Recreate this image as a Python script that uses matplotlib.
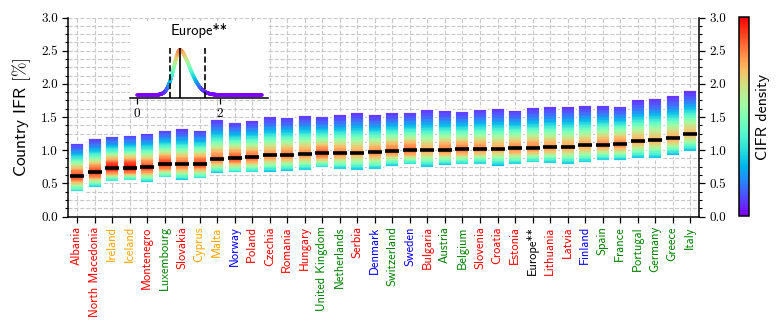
import numpy as np
import matplotlib
matplotlib.use("Agg")
import matplotlib.pyplot as plt
from matplotlib.collections import LineCollection
from matplotlib.ticker import MultipleLocator
from matplotlib import cm, colors as mcolors
from math import gamma as gamma_fn

plt.rcParams['font.family'] = ['cmr10', 'DejaVu Serif']
plt.rcParams['mathtext.fontset'] = 'cm'
plt.rcParams['axes.formatter.use_mathtext'] = True

countries = ["Albania", "North Macedonia", "Ireland", "Iceland", "Montenegro",
             "Luxembourg", "Slovakia", "Cyprus", "Malta", "Norway", "Poland",
             "Czechia", "Romania", "Hungary", "United Kingdom", "Netherlands",
             "Serbia", "Denmark", "Switzerland", "Sweden", "Bulgaria", "Austria",
             "Belgium", "Slovenia", "Croatia", "Estonia", "Europe**", "Lithuania",
             "Latvia", "Finland", "Spain", "France", "Portugal", "Germany",
             "Greece", "Italy"]
label_colors = ["red", "red", "orange", "orange", "red",
                "green", "red", "orange", "orange", "blue", "red",
                "red", "red", "red", "green", "green",
                "red", "blue", "green", "blue", "red", "green",
                "green", "red", "red", "red", "black", "red",
                "red", "blue", "green", "green", "green", "green",
                "green", "green"]
ifr_low = [0.365, 0.435, 0.525, 0.54, 0.51, 0.575, 0.54, 0.56, 0.645, 0.65, 0.65,
           0.66, 0.675, 0.685, 0.725, 0.70, 0.685, 0.70, 0.75, 0.77, 0.725, 0.765,
           0.77, 0.775, 0.75, 0.775, 0.80, 0.79, 0.775, 0.80, 0.835, 0.84, 0.865,
           0.865, 0.915, 0.97]
ifr_median = [0.61, 0.665, 0.735, 0.735, 0.74, 0.79, 0.79, 0.795, 0.87, 0.88, 0.89,
              0.92, 0.93, 0.945, 0.95, 0.96, 0.965, 0.97, 0.995, 1.00, 1.00, 1.01,
              1.015, 1.02, 1.025, 1.03, 1.035, 1.045, 1.05, 1.075, 1.085, 1.09, 1.14,
              1.15, 1.18, 1.25]
ifr_high = [1.11, 1.18, 1.22, 1.235, 1.265, 1.31, 1.33, 1.31, 1.47, 1.425, 1.45,
            1.515, 1.505, 1.535, 1.515, 1.54, 1.575, 1.54, 1.57, 1.575, 1.625, 1.60,
            1.59, 1.62, 1.64, 1.61, 1.645, 1.665, 1.665, 1.685, 1.685, 1.67, 1.77,
            1.79, 1.825, 1.905]
europe_name = "Europe**"
yticks = [0.0, 0.5, 1.0, 1.5, 2.0, 2.5, 3.0]
inset_ticks = [0, 2]

# density shape: generalized normal on each side of the median,
# relative height R_LO at the lower end of the bar and R_HI at the upper end
SHAPE_P = 1.8
R_LO, R_HI = 0.3, 0.07


def side_pdf(y, lo, med, hi):
    b_lo = (med - lo) / np.log(1 / R_LO) ** (1 / SHAPE_P)
    b_hi = (hi - med) / np.log(1 / R_HI) ** (1 / SHAPE_P)
    b = np.where(y < med, b_lo, b_hi)
    peak = 1.0 / (gamma_fn(1 + 1 / SHAPE_P) * (b_lo + b_hi))
    return peak * np.exp(-(np.abs(y - med) / b) ** SHAPE_P)


peaks = [side_pdf(np.array([m]), l, m, h)[0] for l, m, h in zip(ifr_low, ifr_median, ifr_high)]
cmap = plt.get_cmap('rainbow')
norm = mcolors.Normalize(vmin=0, vmax=max(peaks))

fig = plt.figure(figsize=(7.84, 3.35), dpi=100)
ax = fig.add_axes([0.0871, 0.3537, 0.8045, 0.594])

nstrip = 40
for i, (lo, med, hi) in enumerate(zip(ifr_low, ifr_median, ifr_high)):
    edges = np.linspace(lo, hi, nstrip + 1)
    centers = 0.5 * (edges[:-1] + edges[1:])
    dens = side_pdf(centers, lo, med, hi)
    cols = cmap(norm(dens))
    ax.bar([i] * nstrip, np.diff(edges), bottom=edges[:-1], width=0.8,
           color=cols, edgecolor=cols, alpha=0.93, linewidth=0.3, zorder=2)
    ax.bar(i, hi - lo, bottom=lo, width=0.8, facecolor='none',
           edgecolor='white', linewidth=1.3, zorder=3)
ax.hlines(ifr_median, np.arange(len(countries)) - 0.4, np.arange(len(countries)) + 0.4,
          color='black', linewidth=2.6, zorder=4)

ax.set_xlim(-0.5, len(countries) - 0.5)
ax.set_ylim(0, 3.0)
ax.set_yticks(yticks)
ax.yaxis.set_minor_locator(MultipleLocator(0.125))
ax.set_xticks(range(len(countries)))
ax.set_xticklabels(countries, rotation=90, fontfamily=['cmss10', 'DejaVu Sans'], fontsize=9)
for lbl, c in zip(ax.get_xticklabels(), label_colors):
    lbl.set_color(c)
ax.set_yticklabels([f"{v:.1f}" for v in yticks], fontsize=9.5)
ax.tick_params(axis='y', which='both', right=True, labelright=True, direction='out')
ax.tick_params(axis='y', which='major', length=4, width=0.9)
ax.tick_params(axis='y', which='minor', length=2.2, width=0.8)
ax.tick_params(axis='x', which='major', length=4, width=0.9, pad=3)
ax.set_axisbelow(True)
ax.grid(which='both', axis='y', linestyle='--', color='#c8c8c8', linewidth=0.8)
ax.grid(which='major', axis='x', linestyle='--', color='#c8c8c8', linewidth=0.8)
ax.spines['top'].set_visible(False)
for s in ['left', 'right', 'bottom']:
    ax.spines[s].set_linewidth(1.1)
ax.set_ylabel(r"Country IFR $[\%]$", fontfamily=['cmss10', 'DejaVu Sans'], fontsize=12.5, labelpad=6)

# colorbar
cax = fig.add_axes([0.943, 0.3552, 0.01276, 0.593])
sm = cm.ScalarMappable(norm=norm, cmap=cmap)
cb = fig.colorbar(sm, cax=cax)
cb.set_ticks([])
cb.outline.set_linewidth(1.1)
cb.set_label("CIFR density", fontfamily=['cmss10', 'DejaVu Sans'], fontsize=11.5, labelpad=5)

# inset
eu = countries.index(europe_name)
lo_e, med_e, hi_e = ifr_low[eu], ifr_median[eu], ifr_high[eu]
iax = fig.add_axes([0.1658, 0.7084, 0.1764, 0.229])
iax.set_facecolor('white')
xs = np.linspace(0.0, 3.0, 600)
pdf = side_pdf(xs, lo_e, med_e, hi_e)
pts = np.array([xs, pdf]).T.reshape(-1, 1, 2)
segs = np.concatenate([pts[:-1], pts[1:]], axis=1)
lc = LineCollection(segs, colors=cmap(norm(0.5 * (pdf[:-1] + pdf[1:]))), linewidth=2.6,
                    capstyle='round')
iax.add_collection(lc)
P = pdf.max()
iax.set_xlim(-0.16, 3.16)
iax.set_ylim(-0.06 * P, 1.645 * P)
iax.vlines([lo_e, hi_e], -0.06 * P, 1.04 * P, colors='black', linestyles='--', linewidth=1.2)
iax.vlines([med_e], -0.06 * P, 1.04 * P, colors='black', linewidth=1.2)
iax.set_xticks(inset_ticks)
iax.set_xticklabels([str(t) for t in inset_ticks], fontsize=9.5)
iax.set_yticks([])
iax.tick_params(axis='x', length=4, width=0.9, pad=3)
for s in ['left', 'right', 'top']:
    iax.spines[s].set_visible(False)
iax.spines['bottom'].set_linewidth(1.1)
iax.text(0.5, 0.874, europe_name, transform=iax.transAxes, ha='center', va='center',
         fontfamily=['cmss10', 'DejaVu Sans'], fontsize=10.5)

fig.savefig("out.png", dpi=100)
